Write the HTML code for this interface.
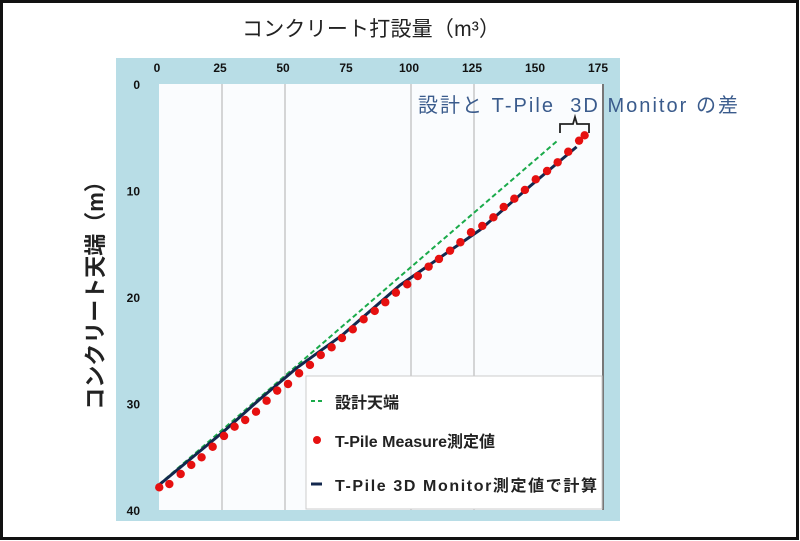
<!DOCTYPE html>
<html><head><meta charset="utf-8"><style>
html,body{margin:0;padding:0;background:#fff;}
svg{display:block;font-family:"Liberation Sans","Noto Sans CJK JP",sans-serif;}
</style></head><body>
<svg width="800" height="541" viewBox="0 0 800 541">
<rect x="1.5" y="1.5" width="796" height="537" fill="#fff" stroke="#111" stroke-width="3"/>
<text x="371" y="36" font-size="21" text-anchor="middle" fill="#222" textLength="258">コンクリート打設量（m³）</text>
<text transform="translate(103,290) rotate(-90)" font-size="22" font-weight="bold" text-anchor="middle" fill="#222">コンクリート天端（m）</text>
<rect x="116" y="58" width="504" height="463" fill="#b8dde6"/>
<rect x="159" y="84" width="444" height="426" fill="#fafcfe"/>
<line x1="603" y1="84" x2="603" y2="510" stroke="#777" stroke-width="2"/>
<g id="grid"></g><g id="xt"></g><g id="yt"></g><g id="series"></g>
<text x="418" y="112" font-size="20" fill="#3a5b8c" textLength="320" lengthAdjust="spacing" xml:space="preserve">設計と T-Pile  3D Monitor の差</text>
<path d="M560,133 L560,124 L573,124 L575,117 L577,124 L589,124 L589,133" fill="none" stroke="#222" stroke-width="1.8"/>
<g>
<rect x="306" y="376" width="296" height="133" fill="#fff" stroke="#ccc"/>
<line x1="311" y1="401" x2="322" y2="401" stroke="#1aaa4a" stroke-width="2" stroke-dasharray="4,3"/>
<text x="335" y="408" font-size="16" font-weight="bold" fill="#222">設計天端</text>
<circle cx="317" cy="440" r="4" fill="#e61010"/>
<text x="335" y="447" font-size="16" font-weight="bold" fill="#222">T-Pile Measure測定値</text>
<line x1="311" y1="484" x2="322" y2="484" stroke="#13284e" stroke-width="3"/>
<text x="335" y="491" font-size="16" font-weight="bold" fill="#222" textLength="262">T-Pile 3D Monitor測定値で計算</text>
</g>
</svg>
<script>
const xTicks=[0,25,50,75,100,125,150,175];
const yTicks=[0,10,20,30,40];
const gridX=[25,50,100,125];
const designVol=[0,158];
const designDepth=[37.6,5.35];
const monitorVol=[0,25.3,40,55,72.6,95.6,127.4,147.2,165.7];
const monitorDepth=[37.65,32.7,29.6,26.6,23.6,18.9,13.7,9.6,5.9];
const measureVol=[0.1,4.1,8.6,12.8,16.9,21.3,25.8,30.0,34.2,38.5,42.7,46.9,51.2,55.6,59.9,64.2,68.5,72.6,76.9,81.2,85.6,89.8,94.0,98.5,102.7,107.0,111.1,115.5,119.6,123.8,128.3,132.7,136.8,141.0,145.2,149.5,154.0,158.2,162.4,166.7,168.9];
const measureDepth=[37.87,37.56,36.62,35.77,35.05,34.06,33.05,32.18,31.55,30.77,29.74,28.79,28.17,27.16,26.38,25.45,24.72,23.85,23.03,22.09,21.31,20.49,19.59,18.81,18.03,17.15,16.43,15.65,14.86,13.92,13.33,12.52,11.55,10.77,9.95,8.95,8.17,7.35,6.36,5.32,4.82];
const NS="http://www.w3.org/2000/svg";
function X(v){return 159+v*2.52;}
function Y(d){return 84+d*10.65;}
function mk(t,p,a){const e=document.createElementNS(NS,t);for(const k in a)e.setAttribute(k,a[k]);p.appendChild(e);return e;}
const grid=document.getElementById('grid');
gridX.forEach(v=>{const l=mk('line',grid,{x1:X(v),x2:X(v),y1:84,y2:510,stroke:'#c8c8c8','stroke-width':1.5});

});
const xt=document.getElementById('xt');
xTicks.forEach(v=>{const t=mk('text',xt,{x:X(v)-2,y:72,'font-size':12,'font-weight':'bold','text-anchor':'middle',fill:'#111'});t.textContent=v;

});
const yt=document.getElementById('yt');
yTicks.forEach(v=>{const t=mk('text',yt,{x:140,y:Y(v)+5,'font-size':12,'font-weight':'bold','text-anchor':'end',fill:'#111'});t.textContent=v;

});
const s=document.getElementById('series');
const dl=mk('polyline',s,{points:designVol.map((v,i)=>X(v)+','+Y(designDepth[i])).join(' '),fill:'none',stroke:'#1aaa4a','stroke-width':2,'stroke-dasharray':'5,3'});


const ml=mk('polyline',s,{points:monitorVol.map((v,i)=>X(v)+','+Y(monitorDepth[i])).join(' '),fill:'none',stroke:'#13284e','stroke-width':3,'stroke-linejoin':'round'});


measureVol.forEach((v,i)=>{const c=mk('circle',s,{cx:X(v),cy:Y(measureDepth[i]),r:4.2,fill:'#e61010'});

});
</script>
</body></html>
